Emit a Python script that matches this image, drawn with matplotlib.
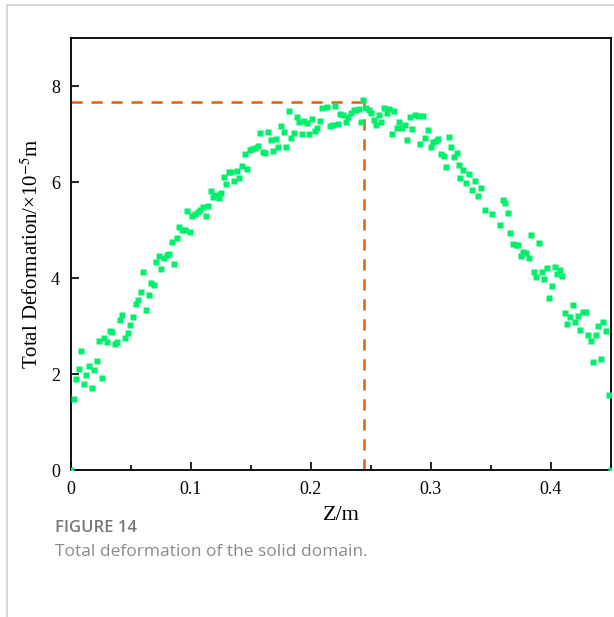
import matplotlib
matplotlib.use("Agg")
import matplotlib.pyplot as plt
from matplotlib.lines import Line2D
from matplotlib.ticker import MultipleLocator

# Z position (m) and total deformation (x1e-5 m)
z = [0.0000, 0.0025, 0.0042, 0.0067, 0.0086, 0.0108, 0.0128, 0.0150, 0.0172, 0.0192,
     0.0214, 0.0233, 0.0256, 0.0278, 0.0303, 0.0322, 0.0344, 0.0364, 0.0386, 0.0408,
     0.0428, 0.0450, 0.0472, 0.0494, 0.0517, 0.0539, 0.0558, 0.0581, 0.0603, 0.0625,
     0.0647, 0.0669, 0.0689, 0.0711, 0.0733, 0.0753, 0.0775, 0.0797, 0.0817, 0.0842,
     0.0861, 0.0883, 0.0903, 0.0928, 0.0950, 0.0969, 0.0992, 0.1011, 0.1033, 0.1056,
     0.1078, 0.1100, 0.1122, 0.1142, 0.1164, 0.1186, 0.1208, 0.1231, 0.1250, 0.1272,
     0.1294, 0.1314, 0.1336, 0.1358, 0.1381, 0.1403, 0.1425, 0.1448, 0.1467, 0.1489,
     0.1511, 0.1533, 0.1556, 0.1578, 0.1597, 0.1619, 0.1642, 0.1664, 0.1686, 0.1706,
     0.1728, 0.1750, 0.1772, 0.1794, 0.1814, 0.1836, 0.1858, 0.1881, 0.1900, 0.1922,
     0.1944, 0.1967, 0.1986, 0.2008, 0.2031, 0.2053, 0.2075, 0.2092, 0.2133, 0.2158,
     0.2181, 0.2203, 0.2222, 0.2242, 0.2267, 0.2289, 0.2311, 0.2333, 0.2356, 0.2378,
     0.2398, 0.2414, 0.2436, 0.2461, 0.2483, 0.2503, 0.2522, 0.2544, 0.2564, 0.2586,
     0.2611, 0.2631, 0.2650, 0.2672, 0.2694, 0.2714, 0.2736, 0.2758, 0.2781, 0.2803,
     0.2825, 0.2844, 0.2869, 0.2892, 0.2911, 0.2936, 0.2953, 0.2975, 0.2997, 0.3019,
     0.3039, 0.3061, 0.3081, 0.3106, 0.3125, 0.3147, 0.3169, 0.3192, 0.3214, 0.3231,
     0.3244, 0.3267, 0.3292, 0.3317, 0.3342, 0.3367, 0.3392, 0.3417, 0.3453, 0.3511,
     0.3575, 0.3597, 0.3619, 0.3642, 0.3661, 0.3683, 0.3706, 0.3728, 0.3747, 0.3769,
     0.3792, 0.3814, 0.3833, 0.3856, 0.3878, 0.3897, 0.3922, 0.3944, 0.3964, 0.3986,
     0.4008, 0.4031, 0.4050, 0.4072, 0.4094, 0.4114, 0.4136, 0.4158, 0.4181, 0.4203,
     0.4225, 0.4244, 0.4267, 0.4289, 0.4308, 0.4331, 0.4353, 0.4372, 0.4394, 0.4417,
     0.4436, 0.4458, 0.4481, 0.4500]
deform = [0.00, 1.48, 1.90, 2.10, 2.49, 1.79, 1.99, 2.17, 1.71, 2.08,
          2.28, 2.69, 1.92, 2.75, 2.67, 2.90, 2.88, 2.63, 2.67, 3.13,
          3.23, 2.76, 2.85, 3.02, 3.18, 3.46, 3.54, 3.71, 4.13, 3.34,
          3.65, 3.90, 3.85, 4.33, 4.46, 4.18, 4.41, 4.47, 4.49, 4.74,
          4.30, 4.83, 5.06, 5.01, 4.99, 5.40, 4.96, 5.29, 5.33, 5.38,
          5.42, 5.47, 5.29, 5.51, 5.82, 5.68, 5.73, 5.66, 5.78, 6.10,
          5.96, 6.21, 6.21, 6.03, 6.22, 6.09, 6.33, 6.58, 6.28, 6.66,
          6.68, 6.71, 6.76, 7.03, 6.63, 6.61, 7.04, 6.87, 6.65, 6.90,
          6.72, 7.16, 7.04, 6.73, 7.47, 6.91, 7.03, 7.35, 7.24, 7.01,
          7.28, 7.22, 7.01, 7.31, 7.06, 7.13, 7.28, 7.54, 7.57, 7.16,
          7.19, 7.58, 7.21, 7.41, 7.40, 7.26, 7.36, 7.44, 7.49, 7.50,
          7.53, 7.26, 7.71, 7.55, 7.49, 7.44, 7.29, 7.18, 7.39, 7.24,
          7.54, 7.44, 7.52, 7.01, 7.47, 7.13, 7.24, 7.13, 7.19, 6.88,
          7.35, 7.11, 7.40, 7.38, 6.79, 7.38, 6.91, 7.08, 6.72, 6.84,
          6.86, 6.90, 6.58, 6.54, 6.31, 6.94, 6.73, 6.53, 6.60, 6.35,
          6.08, 6.25, 5.98, 6.17, 5.83, 6.02, 5.71, 5.88, 5.42, 5.33,
          5.10, 5.63, 5.56, 5.35, 4.94, 4.70, 4.69, 4.69, 4.46, 4.55,
          4.53, 4.42, 4.90, 4.13, 4.02, 4.72, 4.12, 3.99, 4.21, 3.58,
          3.83, 4.23, 4.09, 4.17, 4.04, 3.27, 3.04, 3.18, 3.44, 3.08,
          3.21, 2.92, 3.29, 3.30, 2.82, 2.69, 2.25, 2.81, 3.01, 2.31,
          3.08, 2.90, 1.57, 0.00]

# maximum marked by the dashed guide lines
peak_z = 0.244
peak_d = 7.67

plt.rcParams['mathtext.fontset'] = 'stix'
serif = 'Liberation Serif'

fig = plt.figure(figsize=(6.14, 6.17), dpi=100)
ax = fig.add_axes([0.1156, 0.2382, 0.8795, 0.7002])

ax.plot([0, peak_z], [peak_d, peak_d], color='#e0600f', lw=1.8, dashes=(4.5, 3.5))
ax.plot([peak_z, peak_z], [0, peak_d], color='#e0600f', lw=1.8, dashes=(4.5, 3.5))
ax.plot(z, deform, ls='none', marker='s', ms=4.3, color='#00f06c', mec='none', zorder=3)

ax.set_xlim(0, 0.45)
ax.set_ylim(0, 9)
ax.xaxis.set_major_locator(MultipleLocator(0.1))
ax.xaxis.set_minor_locator(MultipleLocator(0.05))
ax.yaxis.set_major_locator(MultipleLocator(2))
ax.tick_params(direction='in', length=6, width=1.2, labelsize=13, pad=8)
ax.tick_params(axis='x', which='minor', direction='in', length=3.5, width=1.2)
ax.set_xticks([0, 0.1, 0.2, 0.3, 0.4])
ax.set_xticklabels(['0', '0.1', '0.2', '0.3', '0.4'])
for lab in ax.get_xticklabels() + ax.get_yticklabels():
    lab.set_fontfamily(serif)
for s in ax.spines.values():
    s.set_linewidth(1.3)

ax.set_xlabel('Z/m', fontsize=16, family=serif, labelpad=6)
ax.set_ylabel('Total Deformation/×10$^{-5}$m', fontsize=15, family=serif, labelpad=6)

fig.text(0.09, 0.137, 'FIGURE 14', fontsize=12, color='#777777', family='Open Sans',
         fontweight='semibold')
fig.text(0.09, 0.099, 'Total deformation of the solid domain.', fontsize=12.5,
         color='#8a8a8a', family='Open Sans')

# light page frame on the top and left
fig.add_artist(Line2D([0.0114, 1.0], [0.992, 0.992], color='#d0d0d0', lw=1.2,
                      transform=fig.transFigure))
fig.add_artist(Line2D([0.0114, 0.0114], [0.0, 0.992], color='#d0d0d0', lw=1.2,
                      transform=fig.transFigure))

fig.savefig('out.png', dpi=100)
